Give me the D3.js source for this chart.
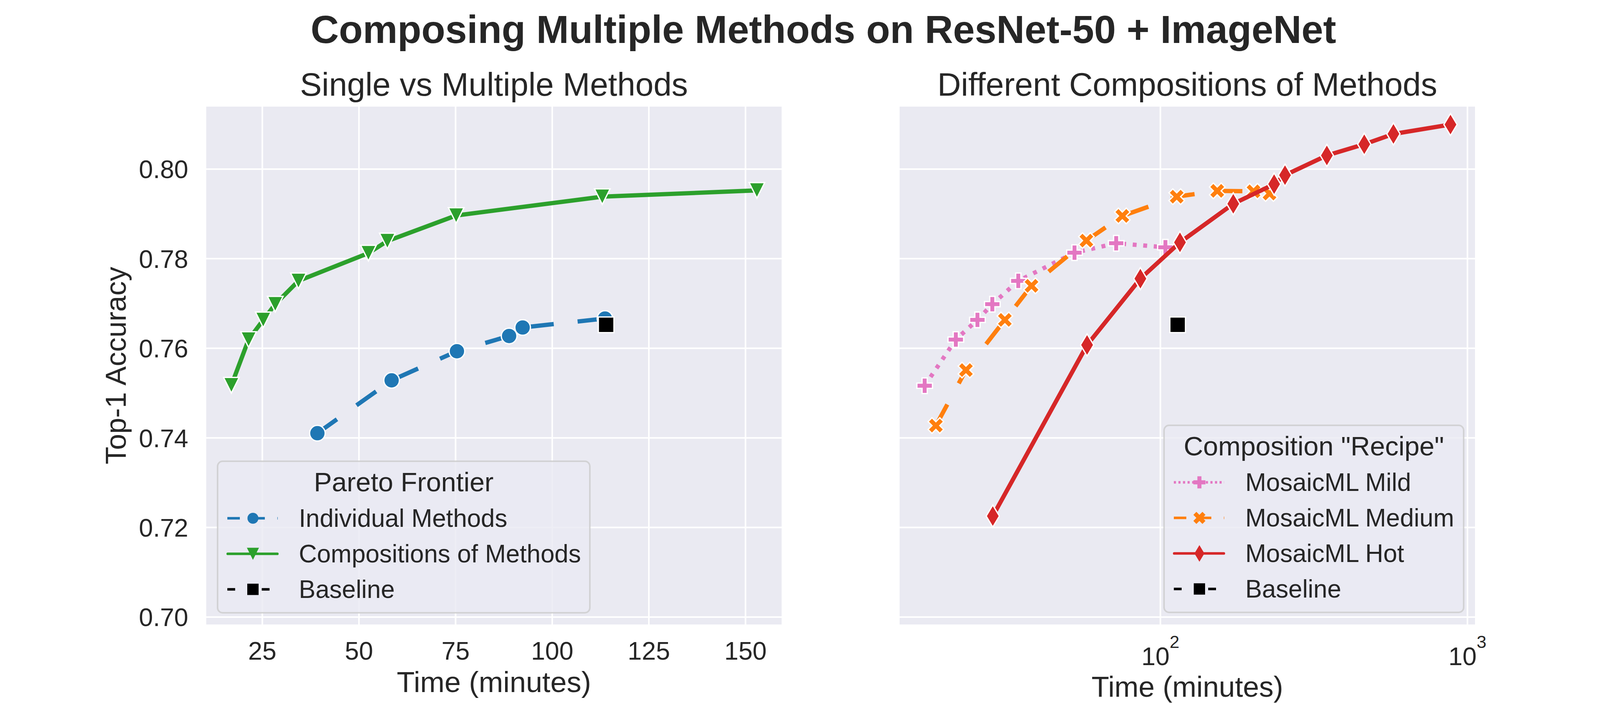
<!DOCTYPE html>
<html>
<head>
<meta charset="utf-8">
<script src="https://cdn.jsdelivr.net/npm/d3@7"></script>
<style>
  body { margin: 0; background: #fff; overflow: hidden; }
  svg { display: block; }
  svg text { font-family: "Liberation Sans", Arial, sans-serif; fill: #262626; }
</style>
</head>
<body>
<svg id="chart" width="4200" height="1800"></svg>
<script>
// ---- left panel: pareto frontiers (minutes, top-1 acc)
const individualTime = [39.3, 58.5, 75.4, 88.9, 92.4, 113.7];
const individualAcc  = [0.7410, 0.7528, 0.7593, 0.7627, 0.7646, 0.7666];
const compositionTime = [17.05, 21.5, 25.3, 28.4, 34.4, 52.5, 57.4, 75.2, 113.0, 153.0];
const compositionAcc  = [0.7517, 0.7619, 0.7663, 0.7698, 0.7750, 0.7812, 0.7839, 0.7896, 0.7938, 0.7952];
const baselineTime = [114.0];
const baselineAcc  = [0.7652];

// ---- right panel: recipes
const mildTime = [17.1, 21.6, 25.4, 28.4, 34.5, 52.6, 71.9, 104.0];
const mildAcc  = [0.7516, 0.7619, 0.7663, 0.7698, 0.7750, 0.7813, 0.7834, 0.7825];
const mediumTime = [18.6, 23.3, 31.2, 38.1, 57.5, 75.3, 113.2, 153.4, 201.4, 227.0];
const mediumAcc  = [0.7427, 0.7551, 0.7663, 0.7739, 0.7840, 0.7895, 0.7938, 0.7951, 0.7950, 0.7945];
const hotTime = [28.5, 57.8, 86.2, 116.0, 173.0, 235.0, 255.0, 349.0, 462.0, 575.0, 882.0];
const hotAcc  = [0.7225, 0.7607, 0.7755, 0.7836, 0.7922, 0.7966, 0.7986, 0.8030, 0.8055, 0.8078, 0.8099];

const yTicks = [0.70, 0.72, 0.74, 0.76, 0.78, 0.80];
const leftTimeTicks = [25, 50, 75, 100, 125, 150];
const rightTimeTicks = [100, 1000];

const FONT = '"Liberation Sans", Arial, sans-serif';
const svg = d3.select("#chart");

const plotTop = 273, plotBottom = 1599;
const y = d3.scaleLinear().domain([0.6983, 0.8139]).range([plotBottom, plotTop]);
const xLeft = d3.scaleLinear().domain([10.55, 159.4]).range([528, 2001]);
const xRight = d3.scaleLog().domain([14.17, 1060]).range([2303, 3776]);

// matplotlib-like marker outlines, unit size
const markerShapes = {
  tri_down: [[0, 0.5], [-0.5, -0.5], [0.5, -0.5]],
  square: [[-0.5, -0.5], [0.5, -0.5], [0.5, 0.5], [-0.5, 0.5]],
  thin_diamond: [[0, -0.7071], [0.4243, 0], [0, 0.7071], [-0.4243, 0]],
  plus: [[-1,-3],[1,-3],[1,-1],[3,-1],[3,1],[1,1],[1,3],[-1,3],[-1,1],[-3,1],[-3,-1],[-1,-1]].map(p => [p[0]/6, p[1]/6]),
  x: [[-1,-2],[0,-1],[1,-2],[2,-1],[1,0],[2,1],[1,2],[0,1],[-1,2],[-2,1],[-1,0],[-2,-1]].map(p => [p[0]/4, p[1]/4])
};

function markerPath(kind, s) {
  if (kind == "circle") return d3.symbol(d3.symbolCircle, Math.PI * (s / 2) * (s / 2))();
  return d3.line()(markerShapes[kind].map(p => [p[0] * s, p[1] * s])) + "Z";
}

function drawPanel(x, ticks, showYLabels) {
  const [x0, x1] = x.range();
  svg.append("rect")
    .attr("x", x0).attr("y", plotTop)
    .attr("width", x1 - x0).attr("height", plotBottom - plotTop)
    .attr("fill", "#EAEAF2");

  const gx = svg.append("g")
    .attr("transform", "translate(0," + plotBottom + ")")
    .call(d3.axisBottom(x).tickValues(ticks).tickSize(-(plotBottom - plotTop)).tickPadding(44).tickFormat(d3.format("d")));
  gx.attr("font-family", FONT).attr("font-size", 65);
  gx.select(".domain").remove();
  gx.selectAll("line").attr("stroke", "#fff").attr("stroke-width", 4);
  gx.selectAll("text").attr("fill", "#262626");

  const gy = svg.append("g")
    .attr("transform", "translate(" + x0 + ",0)")
    .call(d3.axisLeft(y).tickValues(yTicks).tickSize(-(x1 - x0)).tickPadding(46).tickFormat(d3.format(".2f")));
  gy.attr("font-family", FONT).attr("font-size", 65);
  gy.select(".domain").remove();
  gy.selectAll("line").attr("stroke", "#fff").attr("stroke-width", 4);
  gy.selectAll("text").attr("fill", "#262626").attr("dy", "0.36em");
  if (!showYLabels) gy.selectAll("text").remove();
  return gx;
}

function drawSeries(x, times, accs, color, dash, marker) {
  const pts = times.map((t, i) => [x(t), y(accs[i])]);
  svg.append("path")
    .attr("d", d3.line()(pts))
    .attr("fill", "none")
    .attr("stroke", color)
    .attr("stroke-width", 11)
    .attr("stroke-dasharray", dash)
    .attr("stroke-linejoin", "round")
    .attr("stroke-linecap", dash ? "butt" : "round");
  svg.append("g").selectAll("path")
    .data(pts)
    .enter()
    .append("path")
    .attr("transform", d => "translate(" + d[0] + "," + d[1] + ")")
    .attr("d", markerPath(marker, 40))
    .attr("fill", color)
    .attr("stroke", "#fff")
    .attr("stroke-width", 3.3)
    .attr("stroke-linejoin", "miter");
}

function drawLegend(x0, y0, w, title, entries) {
  const h = 168 + 91 * (entries.length - 1) + 38;
  svg.append("rect")
    .attr("x", x0).attr("y", y0).attr("width", w).attr("height", h)
    .attr("rx", 13).attr("ry", 13)
    .attr("fill", "#EAEAF2").attr("fill-opacity", 0.8)
    .attr("stroke", "#cccccc").attr("stroke-opacity", 0.8).attr("stroke-width", 4);
  svg.append("text")
    .attr("x", x0 + w / 2).attr("y", y0 + 77)
    .attr("text-anchor", "middle").attr("font-size", 69)
    .text(title);

  entries.forEach((e, i) => {
    const by = y0 + 168 + 91 * i, ly = by - 22;
    const solid = !e.dash;
    svg.append("line")
      .attr("x1", x0 + (solid ? 26 : 25)).attr("x2", x0 + (solid ? 153 : 154))
      .attr("y1", ly).attr("y2", ly)
      .attr("stroke", e.color).attr("stroke-width", 6.7)
      .attr("stroke-dasharray", e.dash)
      .attr("stroke-linecap", solid ? "round" : "butt");
    svg.append("path")
      .attr("transform", "translate(" + (x0 + 90.5) + "," + ly + ")")
      .attr("d", markerPath(e.marker, e.size))
      .attr("fill", e.color);
    svg.append("text")
      .attr("x", x0 + 208).attr("y", by)
      .attr("font-size", 64)
      .text(e.label);
  });
}

// ---------- left panel
drawPanel(xLeft, leftTimeTicks, true);
drawSeries(xLeft, individualTime, individualAcc, "#1f77b4", "61.5,61.5", "circle");
drawSeries(xLeft, compositionTime, compositionAcc, "#2ca02c", null, "tri_down");
drawSeries(xLeft, baselineTime, baselineAcc, "#000000", "61.5,61.5", "square");

// ---------- right panel (log x, shared y)
const gxr = drawPanel(xRight, rightTimeTicks, false);
gxr.selectAll(".tick text").each(function (d) {
  const t = d3.select(this);
  t.text(null).attr("dy", null).attr("y", 104);
  t.append("tspan").text("10");
  t.append("tspan").attr("font-size", 45).attr("dy", -44).text(Math.round(Math.log10(d)));
});
drawSeries(xRight, mildTime, mildAcc, "#e377c2", "10,17", "plus");
drawSeries(xRight, mediumTime, mediumAcc, "#ff7f0e", "61.5,61.5", "x");
drawSeries(xRight, hotTime, hotAcc, "#d62728", null, "thin_diamond");
drawSeries(xRight, baselineTime, baselineAcc, "#000000", "61.5,61.5", "square");

// ---------- legends
drawLegend(557, 1181, 953, "Pareto Frontier", [
  { label: "Individual Methods", color: "#1f77b4", dash: "32,32", marker: "circle", size: 28 },
  { label: "Compositions of Methods", color: "#2ca02c", dash: null, marker: "tri_down", size: 31 },
  { label: "Baseline", color: "#000000", dash: "20,68,20,200", marker: "square", size: 29 }
]);
drawLegend(2980, 1089, 767, 'Composition "Recipe"', [
  { label: "MosaicML Mild", color: "#e377c2", dash: "5.5,6.2", marker: "plus", size: 31 },
  { label: "MosaicML Medium", color: "#ff7f0e", dash: "32,32", marker: "x", size: 31 },
  { label: "MosaicML Hot", color: "#d62728", dash: null, marker: "thin_diamond", size: 30 },
  { label: "Baseline", color: "#000000", dash: "20,68,20,200", marker: "square", size: 29 }
]);

// ---------- titles and labels
svg.append("text")
  .attr("x", 2108).attr("y", 110)
  .attr("text-anchor", "middle").attr("font-size", 100).attr("font-weight", "bold")
  .text("Composing Multiple Methods on ResNet-50 + ImageNet");

svg.append("text")
  .attr("x", (528 + 2001) / 2).attr("y", 245)
  .attr("text-anchor", "middle").attr("font-size", 83.5)
  .text("Single vs Multiple Methods");
svg.append("text")
  .attr("x", (2303 + 3776) / 2).attr("y", 245)
  .attr("text-anchor", "middle").attr("font-size", 83.5)
  .text("Different Compositions of Methods");

svg.append("text")
  .attr("x", (528 + 2001) / 2).attr("y", 1772)
  .attr("text-anchor", "middle").attr("font-size", 75)
  .text("Time (minutes)");
// the reference crops this one at the bottom edge; kept just inside the page
svg.append("text")
  .attr("x", (2303 + 3776) / 2).attr("y", 1784)
  .attr("text-anchor", "middle").attr("font-size", 74)
  .text("Time (minutes)");
svg.append("text")
  .attr("transform", "translate(322," + (plotTop + plotBottom) / 2 + ") rotate(-90)")
  .attr("text-anchor", "middle").attr("font-size", 74)
  .text("Top-1 Accuracy");
</script>
</body>
</html>
